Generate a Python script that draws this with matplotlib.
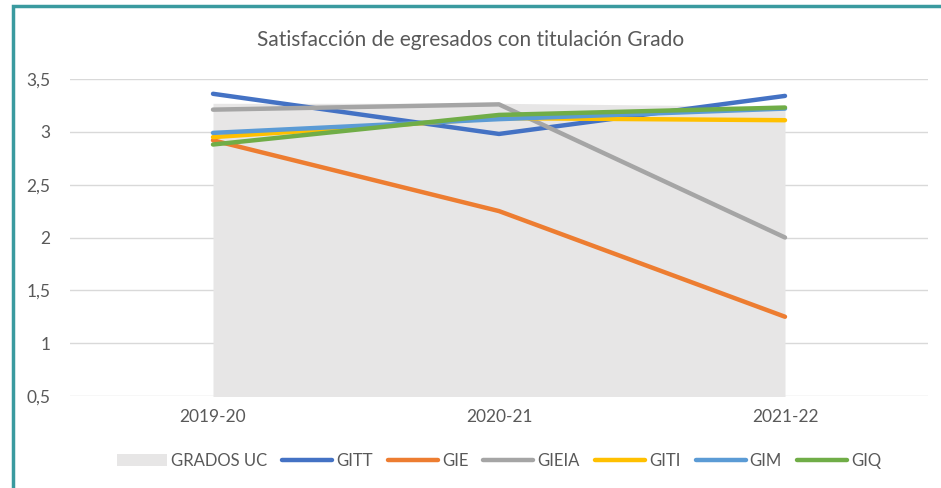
import matplotlib
matplotlib.use("Agg")
import matplotlib.pyplot as plt
from matplotlib.patches import Rectangle
from matplotlib.ticker import FuncFormatter

plt.rcParams['font.family'] = ['Lato', 'DejaVu Sans']

# datos
cursos = ['2019-20', '2020-21', '2021-22']
grados_uc = [3.27, 3.27, 3.24]
gitt = [3.36, 2.98, 3.34]
gie = [2.92, 2.25, 1.25]
gieia = [3.21, 3.26, 2.00]
giti = [2.95, 3.13, 3.11]
gim = [2.99, 3.12, 3.22]
giq = [2.88, 3.16, 3.23]

series = [
    ('GITT', gitt, '#4472c4'),
    ('GIE', gie, '#ed7d31'),
    ('GIEIA', gieia, '#a5a5a5'),
    ('GITI', giti, '#ffc000'),
    ('GIM', gim, '#5b9bd5'),
    ('GIQ', giq, '#70ad47'),
]

fig = plt.figure(figsize=(9.41, 4.88), dpi=100)
ax = fig.add_axes([70 / 941, 1 - 396 / 488, 858 / 941, 317 / 488])

x = list(range(len(cursos)))
ax.fill_between(x, grados_uc, 0, color='#e7e6e6', label='GRADOS UC', linewidth=0, zorder=1)
for nombre, vals, color in series:
    ax.plot(x, vals, color=color, linewidth=3.2, label=nombre, zorder=3,
            solid_capstyle='round', solid_joinstyle='round')

ax.set_xlim(-0.5, 2.5)
ax.set_ylim(0.5, 3.5)
ax.set_yticks([0.5, 1, 1.5, 2, 2.5, 3, 3.5])
ax.yaxis.set_major_formatter(FuncFormatter(lambda v, p: f'{v:g}'.replace('.', ',')))
ax.set_xticks(x)
ax.set_xticklabels(cursos)
ax.grid(axis='y', color='#d9d9d9', linewidth=1, zorder=0)
ax.set_axisbelow(True)
for s in ax.spines.values():
    s.set_visible(False)
ax.tick_params(length=0, labelsize=12.5, colors='#595959', pad=9)
ax.tick_params(axis='y', pad=14)

fig.text(0.5, 1 - 40 / 488, 'Satisfacción de egresados con titulación Grado',
         ha='center', va='center', fontsize=15, color='#595959')

ax.legend(loc='center', bbox_to_anchor=(0.5, -0.205),
          ncol=7, frameon=False, fontsize=12, handlelength=3.0, handletextpad=0.25,
          columnspacing=0.9, labelcolor='#595959')

# marco
fig.patches.append(Rectangle((12.5 / 941, -0.1), 1.2, (1 - 6.5 / 488) + 0.1,
                             transform=fig.transFigure, fill=False,
                             edgecolor='#3a9a9f', linewidth=2.5))

fig.savefig('out.png', dpi=100)
